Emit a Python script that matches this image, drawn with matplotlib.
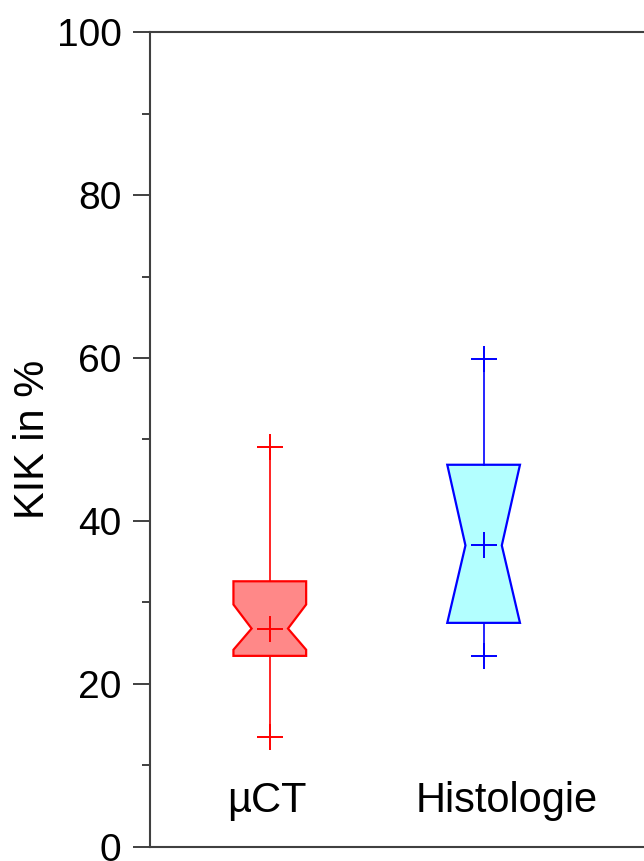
import matplotlib.pyplot as plt
from matplotlib.ticker import MultipleLocator

plt.rcParams['font.family'] = ['Liberation Sans', 'DejaVu Sans']

categories = ["µCT", "Histologie"]
q1 = [23.45, 27.5]
q3 = [32.6, 46.9]
med = [26.8, 37.0]
means = [26.8, 37.0]
ci_lo = [24.2, 27.5]
ci_hi = [29.75, 46.9]
whis_lo = [13.5, 23.4]
whis_hi = [49.1, 59.9]

edge_colors = ["#FF0000", "#0000FF"]
fill_colors = ["#FF8888", "#B3FFFF"]
positions = [1, 2]
label_x = [0.986, 2.11]

stats = []
for i in range(len(categories)):
    stats.append(dict(med=med[i], q1=q1[i], q3=q3[i], cilo=ci_lo[i], cihi=ci_hi[i],
                      whislo=whis_lo[i], whishi=whis_hi[i], mean=means[i], fliers=[]))

fig = plt.figure(figsize=(6.44, 8.61), dpi=100)
ax = fig.add_axes([0.233, 0.0163, 0.85, 0.9465])

for i in range(len(categories)):
    c = edge_colors[i]
    bp = ax.bxp([stats[i]], positions=[positions[i]], widths=0.34, shownotches=True,
                patch_artist=True, showcaps=False, showfliers=False, showmeans=True,
                boxprops=dict(facecolor=fill_colors[i], edgecolor=c, linewidth=1.6),
                whiskerprops=dict(color=c, linewidth=1.2),
                medianprops=dict(linewidth=0),
                meanprops=dict(marker='+', markersize=19, markeredgecolor=c,
                               markeredgewidth=1.4))
    ax.plot([positions[i]] * 2, [whis_lo[i], whis_hi[i]], linestyle='none',
            marker='+', markersize=19, markeredgecolor=c, markeredgewidth=1.4)
    ax.text(label_x[i], 4.3, categories[i], ha='center', va='baseline', fontsize=30)

ax.set_xlim(0.44, 3.0)
ax.set_ylim(0, 100)
ax.set_xticks([])
ax.yaxis.set_major_locator(MultipleLocator(20))
ax.yaxis.set_minor_locator(MultipleLocator(10))
ax.tick_params(axis='y', which='major', length=12.5, width=1.4, pad=8, labelsize=28,
               color='#404040')
ax.tick_params(axis='y', which='minor', length=6, width=1.4, color='#404040')
ax.set_ylabel("KIK in %", fontsize=30, labelpad=3)

for side in ['left', 'top', 'bottom']:
    ax.spines[side].set_color('#404040')
    ax.spines[side].set_linewidth(1.5)
ax.spines['right'].set_visible(False)

fig.savefig("out.png", dpi=100)
